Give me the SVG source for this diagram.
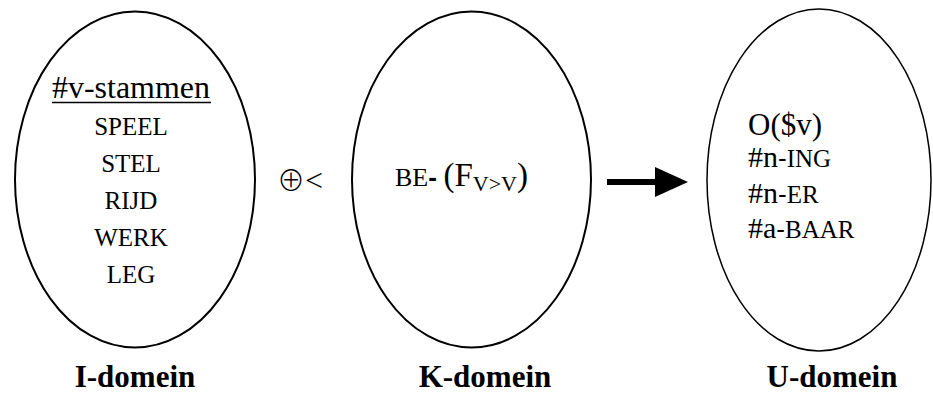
<svg xmlns="http://www.w3.org/2000/svg" width="933" height="396" viewBox="0 0 933 396">
<style>
.ell{fill:none;stroke:#000;stroke-width:2}
.t{font-family:"Liberation Serif","Times New Roman",serif;fill:#000}
.sc{font-size:25px}
.hy{font-family:"Liberation Sans",Arial,sans-serif;font-size:26px}
.lab{font-family:"Liberation Serif","Times New Roman",serif;font-weight:bold;font-size:31px;text-anchor:middle}
</style>
<rect width="933" height="396" fill="#fff"/>
<g id="I-domein">
<ellipse class="ell" cx="135" cy="179.5" rx="120" ry="168"/>
<text class="t" x="52" y="98" font-size="32" textLength="158" lengthAdjust="spacingAndGlyphs">#v-stammen</text>
<line x1="52" y1="102.5" x2="211" y2="102.5" stroke="#000" stroke-width="1.5"/>
<g class="t sc" text-anchor="middle">
<text x="131" y="135">SPEEL</text>
<text x="131" y="172">STEL</text>
<text x="131" y="209">RIJD</text>
<text x="131" y="246">WERK</text>
<text x="131" y="283">LEG</text>
</g>
<text class="lab" x="135" y="387">I-domein</text>
</g>
<g id="op">
<text x="277" y="191" font-family="'Noto Sans CJK JP','DejaVu Sans',sans-serif" font-weight="300" font-size="28">⊕<tspan font-family="'Liberation Serif',serif" font-weight="normal" font-size="32">&lt;</tspan></text>
</g>
<g id="K-domein">
<ellipse class="ell" cx="471.5" cy="179.5" rx="119.5" ry="168"/>
<text class="t" x="395" y="186" font-size="26">BE<tspan font-family="'Liberation Sans',sans-serif" font-weight="bold">-</tspan> <tspan font-size="33">(F</tspan><tspan font-size="22" dy="5">V&gt;V</tspan><tspan font-size="33" dy="-5">)</tspan></text>
<text class="lab" x="485" y="387">K-domein</text>
</g>
<g id="U-domein">
<ellipse class="ell" cx="819" cy="180" rx="112" ry="171" style="stroke-width:1.5"/>
<text class="t" x="748" y="135" font-size="31">O($v)</text>
<text class="t" x="748" y="167" font-size="30">#n<tspan class="hy">-</tspan><tspan font-size="25">ING</tspan></text>
<text class="t" x="748" y="203" font-size="30">#n<tspan class="hy">-</tspan><tspan font-size="25">ER</tspan></text>
<text class="t" x="748" y="238" font-size="30">#a<tspan class="hy">-</tspan><tspan font-size="25">BAAR</tspan></text>
<text class="lab" x="832" y="387">U-domein</text>
</g>
<g id="connectors">
<line x1="607" y1="182" x2="657" y2="182" stroke="#000" stroke-width="6"/>
<polygon points="655,167 688,182 655,197" fill="#000"/>
</g>
</svg>
